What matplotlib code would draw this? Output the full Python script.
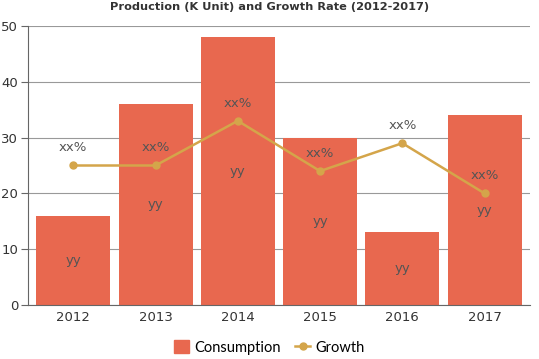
import matplotlib
matplotlib.use("Agg")
import matplotlib.pyplot as plt
from matplotlib.lines import Line2D
from matplotlib.patches import Patch

years = ["2012", "2013", "2014", "2015", "2016", "2017"]
consumption = [16, 36, 48, 30, 13, 34]
growth = [25, 25, 33, 24, 29, 20]
bar_labels = ["yy"] * 6
growth_labels = ["xx%"] * 6
yticks = [0, 10, 20, 30, 40, 50]

bar_color = "#E8684F"
line_color = "#D4A54A"

fig = plt.figure(figsize=(5.39, 3.59), dpi=100)
ax = fig.add_axes([0.052, 0.1504, 0.931, 0.7772])
x = list(range(len(years)))
ax.bar(x, consumption, width=0.9, color=bar_color, zorder=2)
ax.plot(x, growth, color=line_color, lw=1.8, marker="o", ms=5, zorder=3)

for xi, v, lab in zip(x, consumption, bar_labels):
    ax.text(xi, v / 2, lab, ha="center", va="center", fontsize=9.5, color="#555555", zorder=4)
for xi, v, lab in zip(x, growth, growth_labels):
    ax.annotate(lab, (xi, v), xytext=(0, 8), textcoords="offset points",
                ha="center", va="bottom", fontsize=9.5, color="#555555", zorder=4)

ax.set_xlim(-0.55, len(years) - 0.45)
ax.set_ylim(0, 50)
ax.set_yticks(yticks)
ax.set_xticks(x)
ax.set_xticklabels(years)
ax.yaxis.grid(True, color="#999999", lw=0.8, zorder=0)
ax.set_axisbelow(True)
for s in ["top", "right"]:
    ax.spines[s].set_visible(False)
ax.spines["left"].set_color("#666666")
ax.spines["bottom"].set_color("#666666")
ax.tick_params(axis="y", length=5, color="#666666", labelsize=9.5, labelcolor="#333333", pad=2)
ax.tick_params(axis="x", length=0, labelsize=9.5, labelcolor="#333333", pad=4)

fig.suptitle("Production (K Unit) and Growth Rate (2012-2017)", x=0.5, y=0.995,
             fontsize=8.2, fontweight="heavy", color="#333333",
             family="DejaVu Sans")

handles = [Patch(color=bar_color),
           Line2D([0], [0], color=line_color, lw=1.8, marker="o", ms=5)]
fig.legend(handles, ["Consumption", "Growth"], loc="lower center",
           bbox_to_anchor=(0.5, -0.025), ncol=2, frameon=False,
           handlelength=1.0, handleheight=1.0, handletextpad=0.4, columnspacing=1.0,
           prop={"family": "Lato", "size": 10.5})

fig.savefig("out.png", dpi=100)
